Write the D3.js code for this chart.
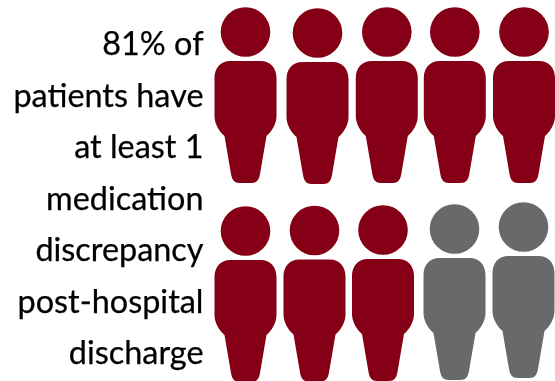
<!DOCTYPE html>
<html><head><meta charset="utf-8"><script src="https://cdn.jsdelivr.net/npm/d3@7"></script>
<style>html,body{margin:0;padding:0;background:#fff;overflow:hidden}</style></head>
<body><svg id="c" width="555" height="381"><defs><filter id="soft" x="-5%" y="-5%" width="110%" height="110%"><feGaussianBlur stdDeviation="0.45"/></filter></defs></svg>
<script>
const textLines = ["81% of","patients have","at least 1","medication","discrepancy","post-hospital","discharge"];
const isHighlighted = [1,1,1,1,1,1,1,1,0,0];
const personX = [245.5,317.5,386.8,454.8,524,245.5,314.5,383,454.5,523.5];
const personY = [32,33,32,32,32,231,230.5,230,229,227];
const highlightColor = "#850012", restColor = "#6b696a";
const svg = d3.select("#c");
const root = svg.append("g").attr("filter","url(#soft)");
const personPath = (() => { const p = d3.path();
  p.moveTo(-15,29); p.lineTo(15,29);
  p.bezierCurveTo(25,29,31,36,31,46);
  p.lineTo(31,84);
  p.bezierCurveTo(31,91,27,99,21,104);
  p.lineTo(14.5,142);
  p.bezierCurveTo(13.5,148,11,151,6,151);
  p.lineTo(-6,151);
  p.bezierCurveTo(-11,151,-13.5,148,-14.5,142);
  p.lineTo(-21,104);
  p.bezierCurveTo(-27,99,-31,91,-31,84);
  p.lineTo(-31,46);
  p.bezierCurveTo(-31,36,-25,29,-15,29);
  p.closePath(); return p.toString(); })();
const g = root.selectAll("g.person").data(isHighlighted).join("g").attr("class","person")
  .attr("transform",(d,i)=>`translate(${personX[i]},${personY[i]})`)
  .attr("fill",d=>d?highlightColor:restColor);
g.append("circle").attr("r",24.8);
g.append("path").attr("d",personPath);
root.selectAll("text.line").data(textLines).join("text").attr("class","line")
  .attr("x",203.5).attr("y",(d,i)=>55+i*51.5).attr("text-anchor","end")
  .attr("font-family","Lato,sans-serif").attr("font-size",32.4).attr("fill","#000").attr("stroke","#000").attr("stroke-width",0.25).text(d=>d);
</script></body></html>
